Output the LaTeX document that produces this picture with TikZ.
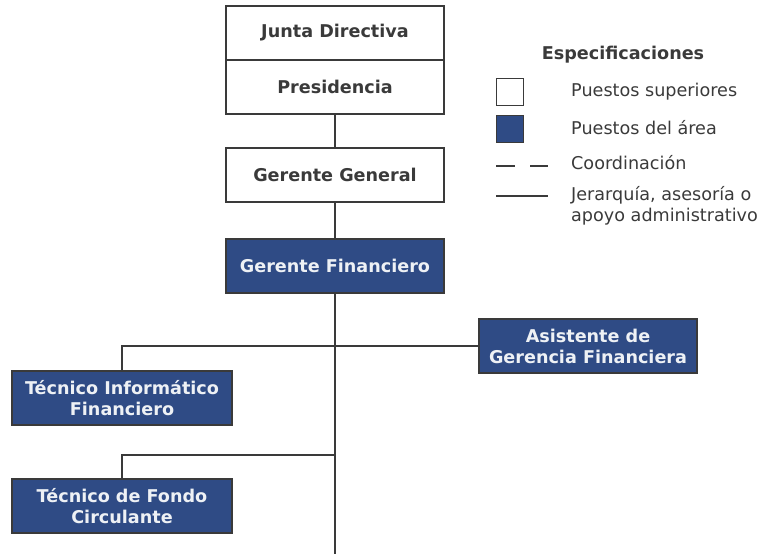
\documentclass[tikz,border=0pt]{standalone}
\usepackage{fontspec}
\setmainfont{DejaVu Sans}
\usepackage{tikz}
\usetikzlibrary{positioning}
\definecolor{areablue}{HTML}{2F4B85}
\definecolor{inkgrey}{HTML}{3A3A3A}
\begin{document}
\begin{tikzpicture}[
  font=\fontsize{17.6}{21}\selectfont,
  x=1pt, y=-1pt,
  sup/.style={draw=inkgrey, line width=1.6pt, fill=white, text=inkgrey, font=\fontsize{17.6}{21}\selectfont\bfseries, minimum width=218pt, minimum height=54pt, inner sep=0pt, align=center},
  area/.style={sup, fill=areablue, text=white!92!areablue},
  link/.style={draw=inkgrey, line width=1.6pt},
  key/.style={draw=inkgrey, line width=1.4pt, minimum size=27pt, inner sep=0pt},
  leg/.style={anchor=west, text=inkgrey, inner sep=0pt, align=left}]

\useasboundingbox (0,0) rectangle (763,554);

\node[sup] (junta) at (335,33) {Junta Directiva};
\node[sup, below=-1.6pt of junta] (pres) {Presidencia};
\node[sup] (gerGen) at (335,175) {Gerente General};
\node[area] (gerFin) at (335,266) {Gerente Financiero};

\node[area] (asis) at (588,346) {Asistente de\\Gerencia Financiera};
\node[area, minimum width=220pt] (tecInf) at (122,398) {Técnico Informático\\Financiero};
\node[area, minimum width=220pt] (tecFon) at (122,506) {Técnico de Fondo\\Circulante};

\coordinate (trunkEnd) at (335,556);
\coordinate (fonJoin) at (335,455);
\draw[link] (pres) -- (gerGen);
\draw[link] (gerGen) -- (gerFin);
\draw[link] (gerFin) -- (trunkEnd);
\draw[link] (tecInf.north) |- (asis.west);
\draw[link] (tecFon.north) |- (fonJoin);

% leyenda
\node[text=inkgrey, font=\fontsize{17.6}{21}\selectfont\bfseries] (espec) at (623,55) {Especificaciones};
\node[key, fill=white] (keySup) at (510,92) {};
\node[key, fill=areablue] (keyArea) at (510,129) {};
\coordinate (dashA) at (496,166); \coordinate (dashB) at (548,166);
\coordinate (solA) at (496,196); \coordinate (solB) at (548,196);
\draw[link, dash pattern=on 19pt off 15pt] (dashA) -- (dashB);
\draw[link] (solA) -- (solB);
\node[leg] (txtSup) at (571,92) {Puestos superiores};
\node[leg] (txtArea) at (571,128) {Puestos del área};
\node[leg] (txtCoord) at (571,163) {Coordinación};
\node[leg] (txtJer) at (571,206) {Jerarquía, asesoría o\\apoyo administrativo};
\end{tikzpicture}
\end{document}
